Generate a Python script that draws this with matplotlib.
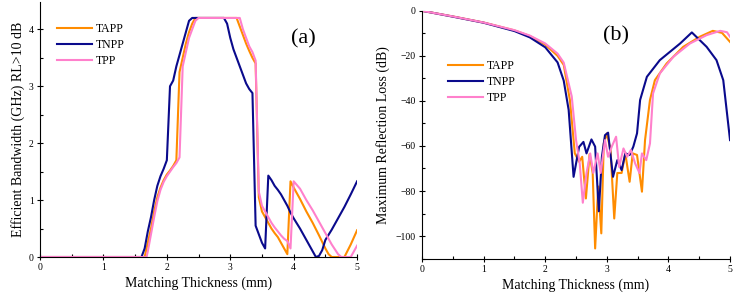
import matplotlib
matplotlib.use('Agg')
import matplotlib.pyplot as plt
from matplotlib.ticker import MultipleLocator

plt.rcParams['font.family'] = ['Liberation Serif', 'DejaVu Serif']

# (a) efficient bandwidth (GHz), RL > 10 dB
tapp_a_x = [0, 1.65, 1.7, 1.75, 1.8, 1.85, 1.9, 1.95, 2.0, 2.05, 2.1, 2.15, 2.2, 2.25, 2.3,
            2.35, 2.4, 2.45, 3.1, 3.15, 3.2, 3.25, 3.3, 3.35, 3.4, 3.45, 3.5, 3.55, 3.6,
            3.65, 3.7, 3.75, 3.8, 3.85, 3.9, 3.95, 4.0, 4.1, 4.2, 4.3, 4.4, 4.5, 4.55,
            4.6, 4.8, 4.9, 5.0]
tapp_a_y = [0, 0, 0.25, 0.5, 0.8, 1.05, 1.22, 1.35, 1.45, 1.52, 1.6, 1.7, 3.25, 3.5, 3.75,
            3.95, 4.1, 4.2, 4.2, 4.05, 3.9, 3.75, 3.62, 3.5, 3.4, 1.05, 0.8, 0.7, 0.6,
            0.5, 0.42, 0.35, 0.25, 0.15, 0.05, 1.33, 1.22, 1.02, 0.8, 0.6, 0.38, 0.15, 0.05,
            0.0, 0.0, 0.22, 0.47]

tnpp_a_x = [0, 1.6, 1.65, 1.7, 1.75, 1.8, 1.85, 1.9, 1.95, 2.0, 2.05, 2.1, 2.15, 2.2, 2.25,
            2.3, 2.35, 2.4, 2.9, 2.95, 3.0, 3.05, 3.1, 3.15, 3.2, 3.25, 3.3, 3.35, 3.4,
            3.45, 3.5, 3.55, 3.6, 3.65, 3.7, 3.75, 3.8, 3.85, 3.9, 3.95, 4.0, 4.1, 4.2,
            4.3, 4.35, 4.4, 4.45, 4.5, 4.6, 4.7, 4.8, 4.9, 5.0]
tnpp_a_y = [0, 0, 0.15, 0.45, 0.7, 1.0, 1.25, 1.42, 1.55, 1.7, 3.0, 3.1, 3.35, 3.55, 3.75,
            3.95, 4.15, 4.2, 4.2, 4.1, 3.85, 3.65, 3.5, 3.35, 3.2, 3.05, 2.95, 2.88, 0.55,
            0.4, 0.25, 0.15, 1.43, 1.35, 1.25, 1.18, 1.1, 1.0, 0.9, 0.78, 0.68, 0.5, 0.3,
            0.1, 0.0, 0.02, 0.12, 0.3, 0.48, 0.68, 0.88, 1.1, 1.33]

tpp_a_x = [0, 1.68, 1.7, 1.75, 1.8, 1.85, 1.9, 1.95, 2.0, 2.05, 2.1, 2.15, 2.2, 2.25, 2.3,
           2.35, 2.4, 2.45, 2.5, 3.15, 3.2, 3.25, 3.3, 3.35, 3.4, 3.45, 3.5, 3.55, 3.6,
           3.65, 3.7, 3.75, 3.8, 3.85, 3.9, 3.95, 4.0, 4.1, 4.2, 4.3, 4.4, 4.5, 4.6,
           4.7, 4.75, 4.9, 5.0]
tpp_a_y = [0, 0, 0.1, 0.4, 0.7, 0.98, 1.18, 1.32, 1.42, 1.5, 1.58, 1.65, 1.75, 3.35, 3.6,
           3.85, 4.0, 4.15, 4.2, 4.2, 4.0, 3.85, 3.7, 3.6, 3.45, 1.15, 0.9, 0.8, 0.7,
           0.6, 0.52, 0.45, 0.38, 0.32, 0.28, 0.15, 1.33, 1.2, 1.0, 0.82, 0.62, 0.42, 0.22,
           0.05, 0.0, 0.0, 0.2]

# (b) maximum reflection loss (dB)
tapp_b_x = [0, 0.5, 1.0, 1.5, 1.75, 2.0, 2.2, 2.3, 2.4, 2.48, 2.55, 2.6, 2.66, 2.72, 2.77,
            2.81, 2.86, 2.91, 2.95, 3.0, 3.06, 3.12, 3.17, 3.24, 3.3, 3.37, 3.42, 3.49,
            3.57, 3.62, 3.7, 3.78, 3.97, 4.24, 4.51, 4.72, 4.87, 5.0]
tapp_b_y = [0, -2.5, -5.2, -8.7, -11.2, -15, -20, -24, -39.6, -63.3, -67, -64.8, -83.3,
            -63.6, -72, -105.5, -78, -98.8, -58.9, -54.4, -61.8, -92.2, -72, -72, -63.3,
            -75.9, -63.3, -64, -80.3, -57.4, -39.6, -30.8, -23.4, -16, -11.5, -8.9, -9.8,
            -13.8]

tnpp_b_x = [0, 0.5, 1.0, 1.5, 1.75, 2.0, 2.2, 2.3, 2.38, 2.46, 2.55, 2.62, 2.67, 2.75,
            2.81, 2.87, 2.92, 2.97, 3.02, 3.1, 3.17, 3.24, 3.3, 3.37, 3.43, 3.49, 3.54,
            3.65, 3.86, 4.19, 4.38, 4.62, 4.78, 4.89, 5.0]
tnpp_b_y = [0, -2.6, -5.3, -9, -11.8, -16.2, -22.9, -31, -44, -73.7, -60.4, -58.2, -63.3,
            -57.1, -60.3, -89, -64.8, -55.2, -54.1, -73.7, -66.3, -70.7, -63.3, -64,
            -60.3, -54.4, -39.6, -29.3, -21.9, -14.5, -9.6, -16, -21.9, -30.8, -57.4]

tpp_b_x = [0, 0.5, 1.0, 1.5, 1.75, 2.0, 2.2, 2.3, 2.43, 2.5, 2.56, 2.61, 2.67, 2.73, 2.78,
           2.85, 2.9, 2.97, 3.02, 3.08, 3.15, 3.2, 3.27, 3.33, 3.39, 3.46, 3.53, 3.57,
           3.64, 3.7, 3.75, 3.86, 4.08, 4.35, 4.62, 4.84, 4.95, 5.0]
tpp_b_y = [0, -2.5, -5.2, -8.6, -11, -14.5, -19, -23, -38, -57.4, -67.8, -85.2, -72, -63.3,
           -72, -63.3, -72, -57.4, -64.8, -60.3, -55.9, -69.3, -61.1, -64.8, -61.8, -67.8,
           -72, -63.3, -66.3, -58.9, -36.7, -27.8, -20.4, -14.5, -10.8, -8.9, -9.5, -11.5]

labels = ['TAPP', 'TNPP', 'TPP']
colors = ['#FF8C00', '#0A0A8C', '#FF80CC']


def style_axes(ax):
    for side in ['top', 'right']:
        ax.spines[side].set_visible(False)
    ax.tick_params(which='major', direction='inout', length=5, width=0.8,
                   labelsize=7, pad=2)
    ax.tick_params(which='minor', direction='in', length=2.5, width=0.8)
    ax.xaxis.set_major_locator(MultipleLocator(1))
    ax.xaxis.set_minor_locator(MultipleLocator(0.5))
    ax.set_xlim(0, 5)
    ax.set_xlabel('Matching Thickness (mm)', fontsize=10, labelpad=3)


fig = plt.figure(figsize=(7.34, 3.0), dpi=100)
ax1 = fig.add_axes([0.0545, 0.1433, 0.432, 0.85])
ax2 = fig.add_axes([0.575, 0.138, 0.4196, 0.826])

for xs, ys, lab, c in zip([tapp_a_x, tnpp_a_x, tpp_a_x], [tapp_a_y, tnpp_a_y, tpp_a_y],
                          labels, colors):
    ax1.plot(xs, ys, color=c, lw=1.5, label=lab)
style_axes(ax1)
ax1.set_ylim(0, 4.48)
ax1.yaxis.set_major_locator(MultipleLocator(1))
ax1.yaxis.set_minor_locator(MultipleLocator(0.5))
ax1.set_ylabel('Efficient Bandwidth (GHz) RL>10 dB', fontsize=10, labelpad=3)
ax1.text(0.83, 0.855, '(a)', transform=ax1.transAxes, fontsize=16,
         ha='center', va='center')
ax1.legend(loc='upper left', bbox_to_anchor=(0.02, 0.96), frameon=False,
           fontsize=8.5, handlelength=3.0, handletextpad=0.3, labelspacing=0.35)

for xs, ys, lab, c in zip([tapp_b_x, tnpp_b_x, tpp_b_x], [tapp_b_y, tnpp_b_y, tpp_b_y],
                          labels, colors):
    ax2.plot(xs, ys, color=c, lw=1.5, label=lab)
style_axes(ax2)
ax2.set_ylim(-110, 0)
ax2.yaxis.set_major_locator(MultipleLocator(20))
ax2.yaxis.set_minor_locator(MultipleLocator(10))
ax2.set_ylabel('Maximum Reflection Loss (dB)', fontsize=10, labelpad=4)
ax2.text(0.63, 0.9, '(b)', transform=ax2.transAxes, fontsize=16,
         ha='center', va='center')
ax2.legend(loc='upper left', bbox_to_anchor=(0.05, 0.845), frameon=False,
           fontsize=8.5, handlelength=3.0, handletextpad=0.3, labelspacing=0.35)

fig.savefig('out.png', dpi=100)
